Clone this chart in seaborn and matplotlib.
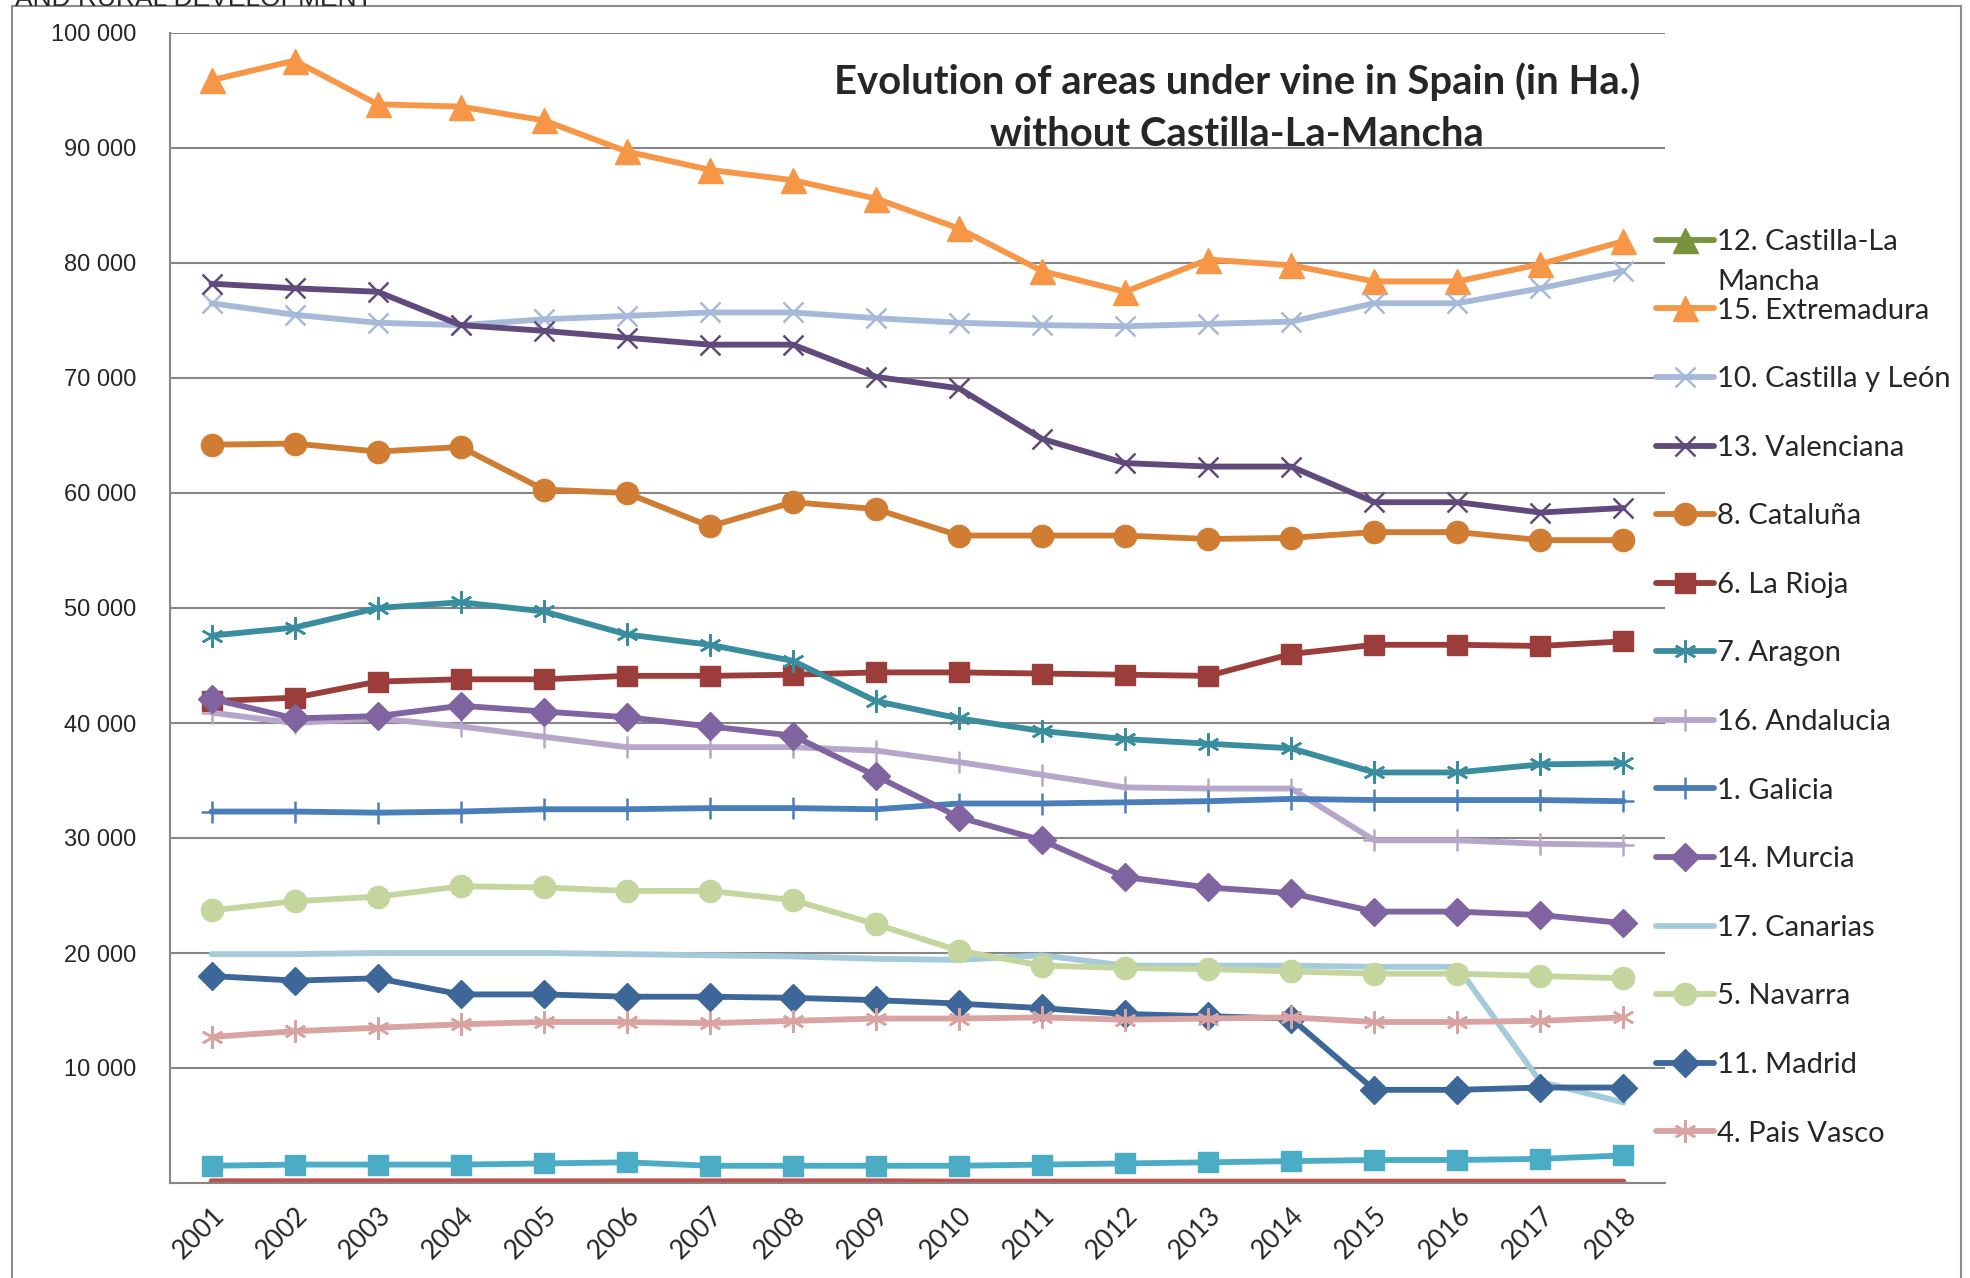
import matplotlib
matplotlib.use("Agg")
import matplotlib.pyplot as plt
import seaborn as sns
import pandas as pd
from matplotlib.lines import Line2D
from matplotlib.patches import Rectangle
from matplotlib.ticker import FuncFormatter

# --- data (ha) ---
years = [2001, 2002, 2003, 2004, 2005, 2006, 2007, 2008, 2009,
         2010, 2011, 2012, 2013, 2014, 2015, 2016, 2017, 2018]

castilla_la_mancha = [0, 0, 0, 0, 0, 0, 0, 0, 0, 0, 0, 0, 0, 0, 0, 0, 0, 0]
extremadura = [95900, 97600, 93800, 93600, 92400, 89700, 88100, 87200, 85600,
               83000, 79300, 77500, 80300, 79800, 78400, 78400, 79900, 81900]
castilla_y_leon = [76500, 75500, 74800, 74600, 75100, 75400, 75700, 75700, 75200,
                   74800, 74600, 74500, 74700, 74900, 76500, 76500, 77800, 79300]
valenciana = [78200, 77800, 77500, 74600, 74100, 73500, 72900, 72900, 70100,
              69100, 64700, 62600, 62300, 62300, 59200, 59200, 58300, 58700]
cataluna = [64200, 64300, 63600, 64000, 60300, 60000, 57100, 59200, 58600,
            56300, 56300, 56300, 56000, 56100, 56600, 56600, 55900, 55900]
la_rioja = [41900, 42200, 43600, 43800, 43800, 44100, 44100, 44200, 44400,
            44400, 44300, 44200, 44100, 46000, 46800, 46800, 46700, 47100]
aragon = [47600, 48300, 50000, 50500, 49700, 47700, 46800, 45400, 41900,
          40400, 39300, 38600, 38200, 37800, 35700, 35700, 36400, 36500]
andalucia = [40900, 40000, 40400, 39700, 38800, 37900, 37900, 37900, 37600,
             36600, 35500, 34400, 34300, 34300, 29800, 29800, 29500, 29400]
galicia = [32300, 32300, 32200, 32300, 32500, 32500, 32600, 32600, 32500,
           33000, 33000, 33100, 33200, 33400, 33300, 33300, 33300, 33200]
murcia = [42100, 40400, 40600, 41500, 41000, 40500, 39700, 38900, 35400,
          31800, 29800, 26600, 25700, 25200, 23600, 23600, 23300, 22600]
canarias = [19900, 19900, 20000, 20000, 20000, 19900, 19800, 19700, 19500,
            19400, 19800, 18900, 18900, 18900, 18800, 18800, 8800, 7000]
navarra = [23700, 24500, 24900, 25800, 25700, 25400, 25400, 24600, 22500,
           20200, 18900, 18700, 18600, 18400, 18200, 18200, 18000, 17800]
madrid = [18000, 17600, 17800, 16400, 16400, 16200, 16200, 16100, 15900,
          15600, 15200, 14700, 14500, 14300, 8100, 8100, 8300, 8300]
pais_vasco = [12700, 13200, 13500, 13800, 14000, 14000, 13900, 14100, 14300,
              14300, 14400, 14200, 14300, 14400, 14000, 14000, 14100, 14400]
# series not shown in the (cut off) legend
baleares = [1500, 1600, 1600, 1600, 1700, 1800, 1500, 1500, 1500,
            1500, 1600, 1700, 1800, 1900, 2000, 2000, 2100, 2400]
other_small = [150, 150, 150, 150, 150, 150, 150, 150, 150,
               120, 120, 120, 120, 120, 120, 120, 120, 120]

# label, values, colour, marker, marker size, edge width, in legend
series = [
    ("12. Castilla-La", castilla_la_mancha, "#77933C", "^", 18, 1, True),
    ("15. Extremadura", extremadura, "#F79646", "^", 18, 1, True),
    ("10. Castilla y León", castilla_y_leon, "#A7B9D9", "x", 14, 1.8, True),
    ("13. Valenciana", valenciana, "#604A7B", "x", 14, 1.8, True),
    ("8. Cataluña", cataluna, "#D07D33", "o", 16, 1, True),
    ("6. La Rioja", la_rioja, "#9A3D3B", "s", 15, 1, True),
    ("7. Aragon", aragon, "#3A8C9F", (6, 2, 0), 16, 1.8, True),
    ("16. Andalucia", andalucia, "#B6A6CA", "+", 16, 1.8, True),
    ("1. Galicia", galicia, "#4A7EBB", "+", 16, 1.8, True),
    ("14. Murcia", murcia, "#8064A2", "D", 14, 1, True),
    ("17. Canarias", canarias, "#A5CBDA", "", 0, 0, True),
    ("5. Navarra", navarra, "#C4D69E", "o", 16, 1, True),
    ("11. Madrid", madrid, "#3D6799", "D", 14, 1, True),
    ("4. Pais Vasco", pais_vasco, "#D9A3A2", (6, 2, 0), 16, 1.8, True),
    ("9. Baleares", baleares, "#4BACC6", "s", 15, 1, False),
    ("3. Cantabria", other_small, "#C0504D", "", 0, 0, False),
]
LW = 4.2

sns.set_style("white")
plt.rcParams['font.family'] = ['Lato', 'DejaVu Sans']

W, H = 1970, 1278
fig = plt.figure(figsize=(W / 100, H / 100), dpi=100)
ax = fig.add_axes([170 / W, 1 - 1183 / H, (1665 - 170) / W, (1183 - 33) / H])

pos = list(range(len(years)))
handles, labels = [], []
for name, vals, col, mk, ms, mew, show in series:
    df = pd.DataFrame({"pos": pos, "area": vals})
    # Castilla-La Mancha is zero everywhere: its markers are hidden under the axis
    plot_mk = mk if (mk and name != "12. Castilla-La") else None
    sns.lineplot(data=df, x="pos", y="area", ax=ax, color=col, linewidth=LW,
                 marker=plot_mk, markersize=ms, markeredgewidth=mew,
                 markeredgecolor=col, markerfacecolor=col, legend=False)
    if show:
        handles.append(Line2D([], [], color=col, linewidth=LW,
                              marker=mk if mk else None, markersize=ms,
                              markeredgewidth=mew, markeredgecolor=col,
                              markerfacecolor=col))
        labels.append(name)

# axes styling
grid_col = "#868686"
ax.set_xlim(-0.5, len(years) - 0.5)
ax.set_ylim(0, 100000)
ax.set_yticks(range(0, 100001, 10000))
ax.yaxis.set_major_formatter(FuncFormatter(
    lambda v, p: "" if v == 0 else f"{int(v):,}".replace(",", " ")))
ax.set_xticks([p - 0.5 for p in pos] + [len(years) - 0.5])
ax.set_xticklabels([])
ax.set_xticks(pos, minor=True)
ax.set_xticklabels([str(y) for y in years], minor=True, rotation=45,
                   ha="right", va="top", rotation_mode="anchor",
                   fontsize=19, family=['Lato'])
ax.tick_params(axis="x", which="major", length=8, width=1.5, color=grid_col,
               direction="out")
ax.tick_params(axis="x", which="minor", length=0, pad=14)
ax.tick_params(axis="y", length=8, width=1.5, color=grid_col, direction="out",
               pad=16)
for t in ax.get_yticklabels():
    t.set_family(['Liberation Sans'])
    t.set_fontsize(17)
ax.set_xlabel("")
ax.set_ylabel("")
ax.yaxis.grid(True, color=grid_col, linewidth=1.5)
ax.xaxis.grid(False)
ax.set_axisbelow(True)
for s in ["top", "right"]:
    ax.spines[s].set_visible(False)
for s in ["left", "bottom"]:
    ax.spines[s].set_color(grid_col)
    ax.spines[s].set_linewidth(1.5)

# title
fig.text(1237 / W, 1 - 107.5 / H,
         "Evolution of areas under vine in Spain (in Ha.)\nwithout Castilla-La-Mancha",
         ha="center", va="center", fontsize=28.8, fontweight="bold",
         linespacing=1.5, family=['Lato'])

# legend
leg = fig.legend(handles, labels, loc="upper left",
                 bbox_to_anchor=(1656 / W, 1 - 229 / H), frameon=False,
                 fontsize=21, handlelength=2.0, handletextpad=0.1,
                 labelspacing=1.46, borderpad=0, borderaxespad=0)
fig.canvas.draw()
bb = leg.get_texts()[0].get_window_extent(fig.canvas.get_renderer())
fig.text(bb.x0 / W, (bb.y0 + bb.y1) / 2 / H - 40 / H, "Mancha",
         ha="left", va="center", fontsize=21)

# chart frame and cut off header from the page
fig.add_artist(Rectangle((12 / W, -0.1), (1961 - 12) / W, 1.1 - 6 / H,
                         transform=fig.transFigure, fill=False,
                         edgecolor="#8c8c8c", linewidth=1.5))
fig.text(15 / W, 1 - 6 / H, "AND RURAL DEVELOPMENT", ha="left",
         va="baseline", fontsize=19, family=['Liberation Sans'])

fig.savefig("out.png", dpi=100)
